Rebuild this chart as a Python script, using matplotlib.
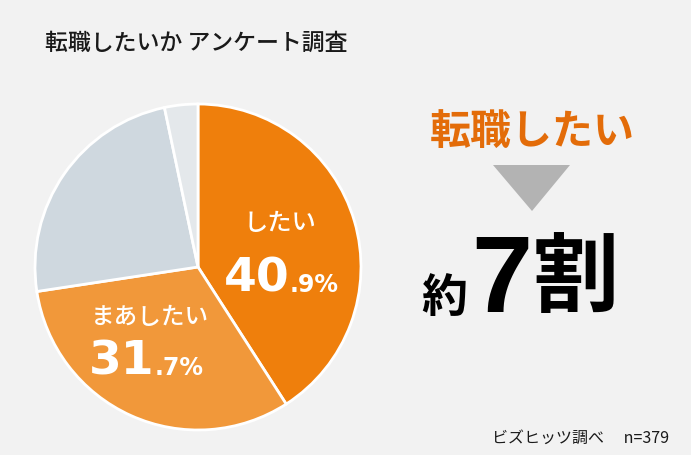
import matplotlib
matplotlib.use("Agg")
import matplotlib.pyplot as plt
from matplotlib.patches import Polygon

plt.rcParams['font.family'] = ['Noto Sans CJK JP', 'DejaVu Sans']

categories = ['したい', 'まあしたい', 'あまりしたくない', 'したくない']
values = [40.9, 31.7, 24.1, 3.3]
colors = ['#ef7f0c', '#f1983a', '#cfd8df', '#e4e8eb']
title = '転職したいか アンケート調査'
source = 'ビズヒッツ調べ　 n=379'

W, H = 691, 456
BG = '#f2f2f2'
fig = plt.figure(figsize=(W / 100, H / 100), dpi=100, facecolor=BG)

def fx(x):
    return x / W

def fy(y):
    return 1 - y / H

cx, cy, r = 198, 268, 163
ax = fig.add_axes([fx(cx - r), fy(cy + r), 2 * r / W, 2 * r / H])
ax.set_facecolor(BG)
ax.pie(values, colors=colors, startangle=90, counterclock=False, radius=1.0,
       wedgeprops=dict(edgecolor='white', linewidth=2))
ax.set_xlim(-1.0, 1.0)
ax.set_ylim(-1.0, 1.0)
ax.set_aspect('equal')
ax.axis('off')

NUM = ['DejaVu Sans']

# title
fig.text(fx(45), fy(43), title, fontsize=16.5, fontweight='medium', color='#1a1a1a', ha='left', va='center')

# pie labels
fig.text(fx(280), fy(223), categories[0], fontsize=17.5, fontweight='medium', color='white', ha='center', va='center')
v0i, v0d = f"{values[0]:.1f}".split('.')
fig.text(fx(290), fy(292), v0i, fontsize=34, fontweight='bold', family=NUM, color='white', ha='right', va='baseline')
fig.text(fx(290), fy(292), '.' + v0d + '%', fontsize=17, fontweight='bold', family=NUM, color='white', ha='left', va='baseline')

fig.text(fx(150), fy(317), categories[1], fontsize=17, fontweight='medium', color='white', ha='center', va='center')
v1i, v1d = f"{values[1]:.1f}".split('.')
fig.text(fx(155), fy(375), v1i, fontsize=34, fontweight='bold', family=NUM, color='white', ha='right', va='baseline')
fig.text(fx(155), fy(375), '.' + v1d + '%', fontsize=17, fontweight='bold', family=NUM, color='white', ha='left', va='baseline')

# right side
fig.text(fx(532), fy(132), '転職したい', fontsize=29.5, fontweight='bold', color='#e36c09', ha='center', va='center')
tri = Polygon([[fx(493), fy(166)], [fx(570), fy(166)], [fx(532), fy(212)]],
              closed=True, transform=fig.transFigure, facecolor='#b3b3b3', edgecolor='none')
fig.patches.append(tri)
fig.text(fx(421), fy(312), '約', fontsize=33, fontweight='bold', color='black', ha='left', va='baseline')
fig.text(fx(471), fy(312), '7', fontsize=79, fontweight='bold', family=['Liberation Sans'], color='black', ha='left', va='baseline')
fig.text(fx(533), fy(305), '割', fontsize=62, fontweight='bold', color='black', ha='left', va='baseline')

# footer
fig.text(fx(492), fy(438), source, fontsize=11.5, color='#1a1a1a', ha='left', va='center')

fig.savefig('out.png', dpi=100, facecolor=BG)
